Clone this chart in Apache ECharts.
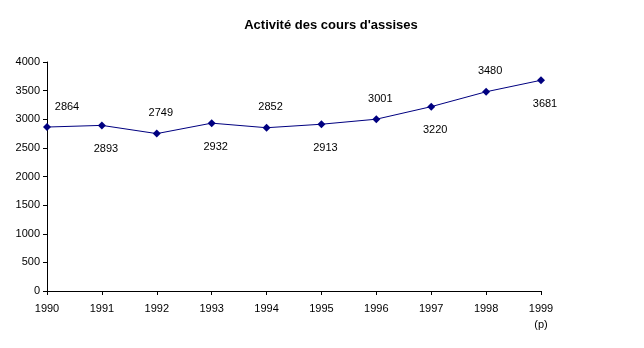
<!DOCTYPE html>
<html>
<head>
<meta charset="utf-8">
<script src="https://cdn.jsdelivr.net/npm/echarts@6/dist/echarts.min.js"></script>
<style>html,body{margin:0;padding:0;background:#fff;}#c{width:644px;height:348px;}</style>
</head>
<body>
<div id="c"></div>
<script>
var years = ['1990','1991','1992','1993','1994','1995','1996','1997','1998','1999'];
var affaires = [2864, 2893, 2749, 2932, 2852, 2913, 3001, 3220, 3480, 3681];
var yTicks = [0, 500, 1000, 1500, 2000, 2500, 3000, 3500, 4000];
var provisionalYear = '1999';

var chart = echarts.init(document.getElementById('c'), null, {renderer: 'canvas'});
var font = 'Arial, "Liberation Sans", sans-serif';
var seriesData = affaires.map(function (v, i) {
  var above = i % 2 === 0;
  return {
    value: v,
    label: {
      position: above ? 'top' : 'bottom',
      offset: [i === 0 ? 20 : 4, above ? 3 : 0]
    }
  };
});
chart.setOption({
  animation: false,
  backgroundColor: '#ffffff',
  title: {
    text: "Activité des cours d'assises",
    left: 326, top: 14, textAlign: 'center',
    textStyle: {fontFamily: font, fontSize: 13, fontWeight: 'bold', color: '#000'}
  },
  grid: {left: 47, right: 103, top: 62, bottom: 57, containLabel: false},
  xAxis: {
    type: 'category',
    data: years,
    boundaryGap: false,
    axisLine: {lineStyle: {color: '#000', width: 1}},
    axisTick: {show: true, alignWithLabel: true, length: 4, inside: false, lineStyle: {color: '#000'}},
    axisLabel: {
      color: '#000', fontFamily: font, fontSize: 11, margin: 10, lineHeight: 16,
      interval: 0,
      formatter: function (v) { return v === provisionalYear ? v + '\n(p)' : v; }
    },
    splitLine: {show: false}
  },
  yAxis: {
    type: 'value',
    min: yTicks[0], max: yTicks[yTicks.length - 1], interval: yTicks[1] - yTicks[0],
    axisLine: {show: true, lineStyle: {color: '#000', width: 1}},
    axisTick: {show: true, length: 4, lineStyle: {color: '#000'}},
    axisLabel: {color: '#000', fontFamily: font, fontSize: 11, margin: 7,
      formatter: function (v) { return String(v); }},
    splitLine: {show: false}
  },
  series: [{
    type: 'line',
    data: seriesData,
    symbol: 'diamond',
    symbolSize: 8,
    lineStyle: {color: '#000080', width: 1},
    itemStyle: {color: '#000080'},
    label: {
      show: true, distance: 14,
      color: '#000', fontFamily: font, fontSize: 11
    }
  }]
});
</script>
</body>
</html>
